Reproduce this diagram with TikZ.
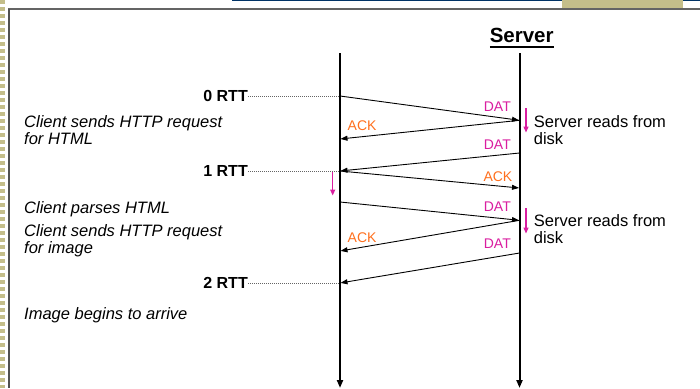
\documentclass[tikz,border=0pt]{standalone}
\usepackage{fontspec}
\setmainfont{Liberation Sans}
\usetikzlibrary{arrows.meta}
\definecolor{navy}{RGB}{0,51,102}
\definecolor{khaki}{RGB}{196,190,138}
\definecolor{framegray}{RGB}{100,100,100}
\definecolor{mag}{RGB}{218,30,160}
\definecolor{orng}{RGB}{255,112,30}
\newcommand{\thickul}[1]{\setbox0\hbox{#1}\rlap{\rule[-5pt]{\wd0}{1.8pt}}\box0}
\tikzset{
  lifeline/.style={line width=2pt, -{Triangle[length=8pt,width=6pt]}},
  msg/.style={line width=0.9pt, -{Triangle[length=7pt,width=5pt]}, shorten >=0.5pt},
  rttlabel/.style={font=\fontsize{16}{17}\selectfont\bfseries, inner sep=0pt, anchor=east},
  rttline/.style={line width=0.8pt, framegray, dash pattern=on 1pt off 1pt},
  note/.style={font=\fontsize{16.5}{17}\selectfont\itshape, inner sep=0pt, anchor=west, align=left},
  srvnote/.style={font=\fontsize{16.5}{17}\selectfont, inner sep=0pt, anchor=west, align=left},
  datlbl/.style={font=\fontsize{14}{16}\selectfont, text=mag, inner sep=0pt, anchor=east},
  acklbl/.style={font=\fontsize{14}{16}\selectfont, text=orng, inner sep=0pt},
  proc/.style={line width=1.3pt, mag, -{Triangle[length=6pt,width=5pt]}},
}
\begin{document}
\begin{tikzpicture}[x=1pt,y=-1pt]
\useasboundingbox (0,0) rectangle (700,388);
\fill[white] (0,0) rectangle (700,388);
% slide decorations
\draw[khaki, line width=5pt, dash pattern=on 4pt off 3pt] (2.5,0) -- (2.5,388);
\draw[navy, line width=1.5pt] (232,0.5) -- (700,0.5);
\fill[khaki] (562,0) rectangle (683,8);
\draw[framegray, line width=2pt] (8,9) -- (700,9);
\draw[framegray!80!black, line width=1.6pt] (9,9) -- (9,388);

% title
\node[font=\fontsize{20.5}{22}\selectfont\bfseries, inner sep=0pt, anchor=base] (server) at (521.7,42.7) {\thickul{Server}};

% lifelines
\coordinate (ctop) at (340,53);
\coordinate (cbot) at (340,388);
\coordinate (stop) at (519.5,53);
\coordinate (sbot) at (519.5,388);
\draw[lifeline] (ctop) -- (cbot);
\draw[lifeline] (stop) -- (sbot);

% message end points
\coordinate (c1) at (340,96);
\coordinate (s1) at (519.5,120.3);
\coordinate (c2) at (340,139);
\coordinate (s3) at (519.5,153);
\coordinate (c3) at (340,171);
\coordinate (s4) at (519.5,188);
\coordinate (c5) at (340,202);
\coordinate (s5) at (519.5,220.3);
\coordinate (c6) at (340,251);
\coordinate (s7) at (519.5,253);
\coordinate (c7) at (340,283);

\draw[msg] (c1) -- (s1);
\draw[msg] (s1) -- (c2);
\draw[msg] (s3) -- (c3);
\draw[msg] (c3) -- (s4);
\draw[msg] (c5) -- (s5);
\draw[msg] (s5) -- (c6);
\draw[msg] (s7) -- (c7);

% message labels
\node[datlbl] (dat1) at (511,106.7) {DAT};
\node[acklbl, anchor=west] (ack1) at (347.5,125.5) {ACK};
\node[datlbl] (dat2) at (511,144.8) {DAT};
\node[acklbl, anchor=east] (ack2) at (512.5,176.2) {ACK};
\node[datlbl] (dat3) at (511,207) {DAT};
\node[acklbl, anchor=west] (ack3) at (347.5,238) {ACK};
\node[datlbl] (dat4) at (511,244) {DAT};

% processing arrows
\coordinate (p1a) at (526,108.3);
\coordinate (p1b) at (526,132.5);
\coordinate (p2a) at (526,208.3);
\coordinate (p2b) at (526,233.5);
\coordinate (p3a) at (332.7,171.7);
\coordinate (p3b) at (332.7,195.5);
\draw[proc] (p1a) -- (p1b);
\draw[proc] (p2a) -- (p2b);
\draw[proc] (p3a) -- (p3b);

% server notes
\node[srvnote] (srv1) at (533.7,130.3) {Server reads from\\disk};
\node[srvnote] (srv2) at (533.7,228.7) {Server reads from\\disk};

% RTT markers
\node[rttlabel] (rtt0) at (248,96) {0 RTT};
\node[rttlabel] (rtt1) at (248,171) {1 RTT};
\node[rttlabel] (rtt2) at (248,283) {2 RTT};
\draw[rttline] (rtt0.east) -- (c1);
\draw[rttline] (rtt1.east) -- (c3);
\draw[rttline] (rtt2.east) -- (c7);

% client notes
\node[note] (n1) at (24,130.5) {Client sends HTTP request\\for HTML};
\node[note] (n2) at (24,209.7) {Client parses HTML};
\node[note] (n3) at (24,240.3) {Client sends HTTP request\\for image};
\node[note] (n4) at (24,315) {Image begins to arrive};
\end{tikzpicture}
\end{document}
